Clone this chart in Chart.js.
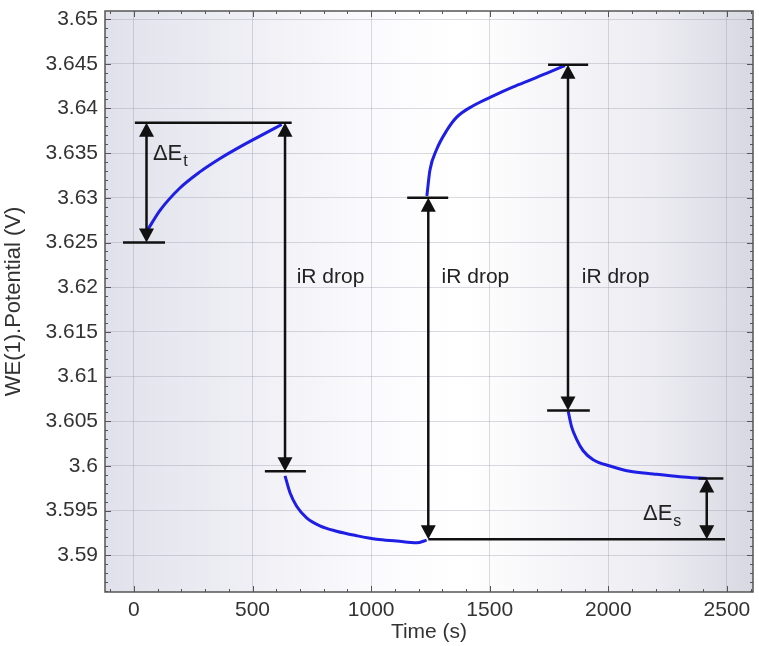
<!DOCTYPE html>
<html>
<head>
<meta charset="utf-8">
<script src="https://cdn.jsdelivr.net/npm/chart.js"></script>
<style>
  html, body { margin: 0; padding: 0; background: #fff; }
</style>
</head>
<body>
<canvas id="chart" width="759" height="646"></canvas>
<script>
// --- values ---

// potential trace, four pieces (time in s, potential in V)
const seg1Time = [53, 110, 194, 278, 363, 447, 531, 623];
const seg1Volt = [3.6262, 3.6286, 3.6311, 3.6329, 3.6344, 3.6357, 3.6369, 3.6382];

const seg2Time = [637, 658, 686, 728, 784, 854, 939, 1023, 1108, 1192, 1234];
const seg2Volt = [3.5989, 3.597, 3.5955, 3.5942, 3.5933, 3.5927, 3.5922, 3.5918, 3.5916, 3.5914, 3.5917];

const seg3Time = [1235, 1248, 1276, 1318, 1360, 1430, 1515, 1599, 1683, 1754, 1817];
const seg3Volt = [3.6302, 3.6331, 3.6354, 3.6375, 3.639, 3.6403, 3.6414, 3.6424, 3.6433, 3.6441, 3.6448];

const seg4Time = [1831, 1845, 1866, 1894, 1936, 2007, 2091, 2190, 2302, 2415];
const seg4Volt = [3.6061, 3.6044, 3.603, 3.6017, 3.6007, 3.6, 3.5994, 3.5991, 3.5988, 3.5986];

// tick labels
const xTicks = [0, 500, 1000, 1500, 2000, 2500];
const yTicks = [3.59, 3.595, 3.6, 3.605, 3.61, 3.615, 3.62, 3.625, 3.63, 3.635, 3.64, 3.645, 3.65];

// annotation marks: horizontal bars [from t, to t, V]
const barFrom = [-46, 4, 552, 1152, 1241, 1746, 1742, 2380];
const barTo = [131, 665, 725, 1325, 2492, 1915, 1922, 2485];
const barVolt = [3.625, 3.6384, 3.5994, 3.63, 3.5918, 3.6449, 3.6062, 3.5986];

// double arrows [t, low V, high V]
const arrowTime = [53, 637, 1241, 1830, 2415];
const arrowLow = [3.625, 3.5994, 3.5918, 3.6062, 3.5918];
const arrowHigh = [3.6384, 3.6384, 3.63, 3.6449, 3.5986];

// text labels
const labelText = ["iR drop", "iR drop", "iR drop"];
const labelTime = [686, 1297, 1888];
const labelVolt = [3.6205, 3.6205, 3.6205];
const deltaSub = ["t", "s"];
const deltaTime = [80, 2146];
const deltaVolt = [3.63425, 3.594];

const FONT = "'Liberation Sans', Arial, sans-serif";

function toPoints(ts, vs) {
  return ts.map((t, i) => ({ x: t, y: vs[i] }));
}

function trace(ts, vs) {
  return {
    data: toPoints(ts, vs),
    showLine: true,
    borderColor: "rgb(30,30,228)",
    borderWidth: 3,
    pointRadius: 0,
    cubicInterpolationMode: "monotone",
  };
}

function arrowHead(ctx, x, y, up) {
  const len = 14, half = 7.5;
  const base = up ? y + len : y - len;
  ctx.beginPath();
  ctx.moveTo(x, y);
  ctx.lineTo(x - half, base);
  ctx.lineTo(x + half, base);
  ctx.closePath();
  ctx.fill();
}

const decorPlugin = {
  id: "decor",
  beforeDraw(chart) {
    const { ctx, chartArea: a } = chart;
    const g = ctx.createLinearGradient(a.left, 0, a.right, 0);
    g.addColorStop(0, "#e1e1eb");
    g.addColorStop(0.4, "#fafafd");
    g.addColorStop(0.55, "#ffffff");
    g.addColorStop(0.85, "#ececf2");
    g.addColorStop(1, "#d8d8e2");
    ctx.save();
    ctx.fillStyle = g;
    ctx.fillRect(a.left, a.top, a.right - a.left, a.bottom - a.top);
    ctx.restore();
  },
  afterDatasetsDraw(chart) {
    const { ctx } = chart;
    const xs = chart.scales.x, ys = chart.scales.y;
    ctx.save();
    ctx.strokeStyle = "#111";
    ctx.fillStyle = "#111";
    ctx.lineWidth = 2.5;

    // horizontal bars
    barVolt.forEach((v, i) => {
      const y = ys.getPixelForValue(v);
      ctx.beginPath();
      ctx.moveTo(xs.getPixelForValue(barFrom[i]), y);
      ctx.lineTo(xs.getPixelForValue(barTo[i]), y);
      ctx.stroke();
    });

    // double arrows
    arrowTime.forEach((t, i) => {
      const x = xs.getPixelForValue(t);
      const yTop = ys.getPixelForValue(arrowHigh[i]);
      const yBot = ys.getPixelForValue(arrowLow[i]);
      ctx.beginPath();
      ctx.moveTo(x, yTop + 10);
      ctx.lineTo(x, yBot - 10);
      ctx.stroke();
      arrowHead(ctx, x, yTop, true);
      arrowHead(ctx, x, yBot, false);
    });

    // labels
    ctx.fillStyle = "#222";
    ctx.textBaseline = "alphabetic";
    ctx.textAlign = "left";
    ctx.font = "21px " + FONT;
    labelText.forEach((s, i) => {
      ctx.fillText(s, xs.getPixelForValue(labelTime[i]), ys.getPixelForValue(labelVolt[i]));
    });
    deltaSub.forEach((sub, i) => {
      const x = xs.getPixelForValue(deltaTime[i]);
      const y = ys.getPixelForValue(deltaVolt[i]);
      ctx.font = "22px " + FONT;
      ctx.fillText("\u0394E", x, y);
      const w = ctx.measureText("\u0394E").width;
      ctx.font = "16px " + FONT;
      ctx.fillText(sub, x + w + 1, y + 6);
    });
    ctx.restore();
  },
  afterDraw(chart) {
    const { ctx, chartArea: a } = chart;
    const xs = chart.scales.x, ys = chart.scales.y;
    ctx.save();
    ctx.strokeStyle = "#555";
    ctx.lineWidth = 1;

    // inward tick marks on all four sides
    ctx.beginPath();
    for (let t = -100; t <= 2600; t += 100) {
      const x = Math.round(xs.getPixelForValue(t)) + 0.5;
      const len = t % 500 === 0 ? 6 : 3;
      ctx.moveTo(x, a.bottom); ctx.lineTo(x, a.bottom - len);
      ctx.moveTo(x, a.top); ctx.lineTo(x, a.top + len);
    }
    for (let k = 3586; k <= 3650; k++) {
      const y = Math.round(ys.getPixelForValue(k / 1000)) + 0.5;
      const len = k % 5 === 0 ? 6 : 3;
      ctx.moveTo(a.left, y); ctx.lineTo(a.left + len, y);
      ctx.moveTo(a.right, y); ctx.lineTo(a.right - len, y);
    }
    ctx.stroke();

    // frame
    ctx.lineWidth = 1.5;
    ctx.strokeRect(a.left, a.top, a.right - a.left, a.bottom - a.top);
    ctx.restore();
  },
};

new Chart(document.getElementById("chart"), {
  type: "scatter",
  data: {
    datasets: [
      trace(seg1Time, seg1Volt),
      trace(seg2Time, seg2Volt),
      trace(seg3Time, seg3Volt),
      trace(seg4Time, seg4Volt),
    ],
  },
  options: {
    responsive: false,
    animation: false,
    events: [],
    layout: { padding: { top: 11, right: 6, left: 0, bottom: 0 } },
    plugins: {
      legend: { display: false },
      tooltip: { enabled: false },
    },
    scales: {
      x: {
        type: "linear",
        min: -122,
        max: 2610,
        afterBuildTicks: (s) => { s.ticks = xTicks.map((v) => ({ value: v })); },
        afterFit: (s) => {
          s.height = 54;
          s.paddingLeft = 0;
          s.paddingRight = 0;
        },
        ticks: {
          font: { family: FONT, size: 21 },
          color: "#333",
          padding: 6,
          maxRotation: 0,
          autoSkip: false,
          callback: (v) => String(v),
        },
        grid: { color: "rgba(150,150,165,0.35)", drawTicks: false },
        border: { display: false },
        title: {
          display: true,
          text: "Time (s)",
          font: { family: FONT, size: 21 },
          color: "#333",
          padding: { top: 0, bottom: 1 },
        },
      },
      y: {
        type: "linear",
        min: 3.5859,
        max: 3.6509,
        afterBuildTicks: (s) => { s.ticks = yTicks.map((v) => ({ value: v })); },
        afterFit: (s) => {
          s.width = 105;
          s.paddingTop = 0;
          s.paddingBottom = 0;
        },
        ticks: {
          font: { family: FONT, size: 21 },
          color: "#333",
          padding: 7,
          callback: (v) => String(+Number(v).toFixed(3)),
        },
        grid: { color: "rgba(150,150,165,0.35)", drawTicks: false },
        border: { display: false },
        title: {
          display: true,
          text: "WE(1).Potential (V)",
          font: { family: FONT, size: 22 },
          color: "#333",
          padding: { top: 1, bottom: 0 },
        },
      },
    },
  },
  plugins: [decorPlugin],
});
</script>
</body>
</html>
